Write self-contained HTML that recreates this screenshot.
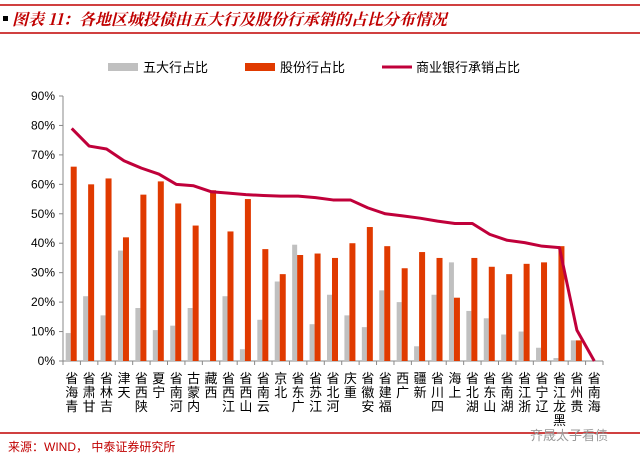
<!DOCTYPE html>
<html><head><meta charset="utf-8"><style>
body{margin:0;background:#fff;width:640px;height:468px;overflow:hidden;font-family:"Liberation Sans","Noto Sans CJK SC",sans-serif}
</style></head><body>
<svg width="640" height="468" xmlns="http://www.w3.org/2000/svg">
<line x1="0" y1="5" x2="640" y2="5" stroke="#c00000" stroke-width="1.5"/>
<line x1="0" y1="33" x2="640" y2="33" stroke="#c00000" stroke-width="1.5"/>
<rect x="3" y="16" width="5" height="5" fill="#000"/>
<text x="12" y="25" font-size="16" font-weight="bold" font-style="italic" fill="#c00000" font-family="Noto Serif CJK SC, serif">图表 11：各地区城投债由五大行及股份行承销的占比分布情况</text>
<g>
<rect x="108" y="63" width="30" height="8" fill="#c0c0c0"/>
<text x="143" y="72" font-size="13" fill="#000">五大行占比</text>
<rect x="245" y="63" width="30" height="8" fill="#e03a00"/>
<text x="280" y="72" font-size="13" fill="#000">股份行占比</text>
<line x1="382" y1="67" x2="412" y2="67" stroke="#c0003a" stroke-width="3"/>
<text x="416" y="72" font-size="13" fill="#000">商业银行承销占比</text>
</g>
<g id="plot"></g>
<line x1="0" y1="433" x2="640" y2="433" stroke="#c00000" stroke-width="1.5"/>
<text x="8" y="451" font-size="12" fill="#c00000">来源：WIND，  中泰证券研究所</text>
<text x="530" y="440" font-size="13" fill="#999">齐晟太子看债</text>
</svg>
<script>
const categories=["青海省","甘肃省","吉林省","天津","陕西省","宁夏","河南省","内蒙古","西藏","江西省","山西省","云南省","北京","广东省","江苏省","河北省","重庆","安徽省","福建省","广西","新疆","四川省","上海","湖北省","山东省","湖南省","浙江省","辽宁省","黑龙江省","贵州省","海南省"];
const bigFive=[9.5,22,15.5,37.5,18,10.5,12,18,0,22,4,14,27,39.5,12.5,22.5,15.5,11.5,24,20,5,22.5,33.5,17,14.5,9,10,4.5,1,7,0];
const jointStock=[66,60,62,42,56.5,61,53.5,46,58,44,55,38,29.5,36,36.5,35,40,45.5,39,31.5,37,35,21.5,35,32,29.5,33,33.5,39,7,0];
const commercial=[79,73,72,68,65.5,63.5,60,59.5,57.5,57,56.5,56.2,56,56,55.5,54.7,54.7,52,50,49.3,48.5,47.5,46.7,46.7,43,41,40.2,39,38.5,10.5,0];
const yTicks=[0,10,20,30,40,50,60,70,80,90];
const NS="http://www.w3.org/2000/svg";
const g=document.getElementById('plot');
const x0=63,x1=603,y0=361,yTop=96;
const step=(x1-x0)/categories.length;
const y=v=>y0-(v/90)*(y0-yTop);
const xc=i=>x0+step*(i+0.5);
function mk(t,a){const e=document.createElementNS(NS,t);for(const k in a)e.setAttribute(k,a[k]);g.appendChild(e);return e;}
let e=mk('line',{x1:x0,y1:yTop,x2:x0,y2:y0,stroke:'#888'});


e=mk('line',{x1:x0,y1:y0,x2:x1,y2:y0,stroke:'#888'});


yTicks.forEach(t=>{
 let l=mk('line',{x1:x0-4,y1:y(t),x2:x0,y2:y(t),stroke:'#888'});
 
 
 let tx=mk('text',{x:x0-8,y:y(t)+4,'font-size':12,'text-anchor':'end',fill:'#000'});
 tx.textContent=t+'%';
 
 
});
for(let i=0;i<=categories.length;i++){
 let l=mk('line',{x1:x0+step*i,y1:y0,x2:x0+step*i,y2:y0+4,stroke:'#888'});
 
 
}
categories.forEach((c,i)=>{
 const cx=xc(i);
 let b=mk('rect',{x:cx-6,y:y(bigFive[i]),width:5,height:y0-y(bigFive[i]),fill:'#c0c0c0'});
 
 
 let r=mk('rect',{x:cx-1,y:y(jointStock[i]),width:6,height:y0-y(jointStock[i]),fill:'#e03a00'});
 
 
 const chars=[...c].reverse();
 chars.forEach((ch,j)=>{
  let t=mk('text',{x:cx,y:y0+22+j*14,'font-size':13,'text-anchor':'middle',fill:'#000'});
  t.textContent=ch;
  
  
 });
});
const pts=commercial.map((v,i)=>xc(i)+','+y(v)).join(' ');
e=mk('polyline',{points:pts,fill:'none',stroke:'#c0003a','stroke-width':3,'stroke-linejoin':'round'});


</script>
</body></html>
